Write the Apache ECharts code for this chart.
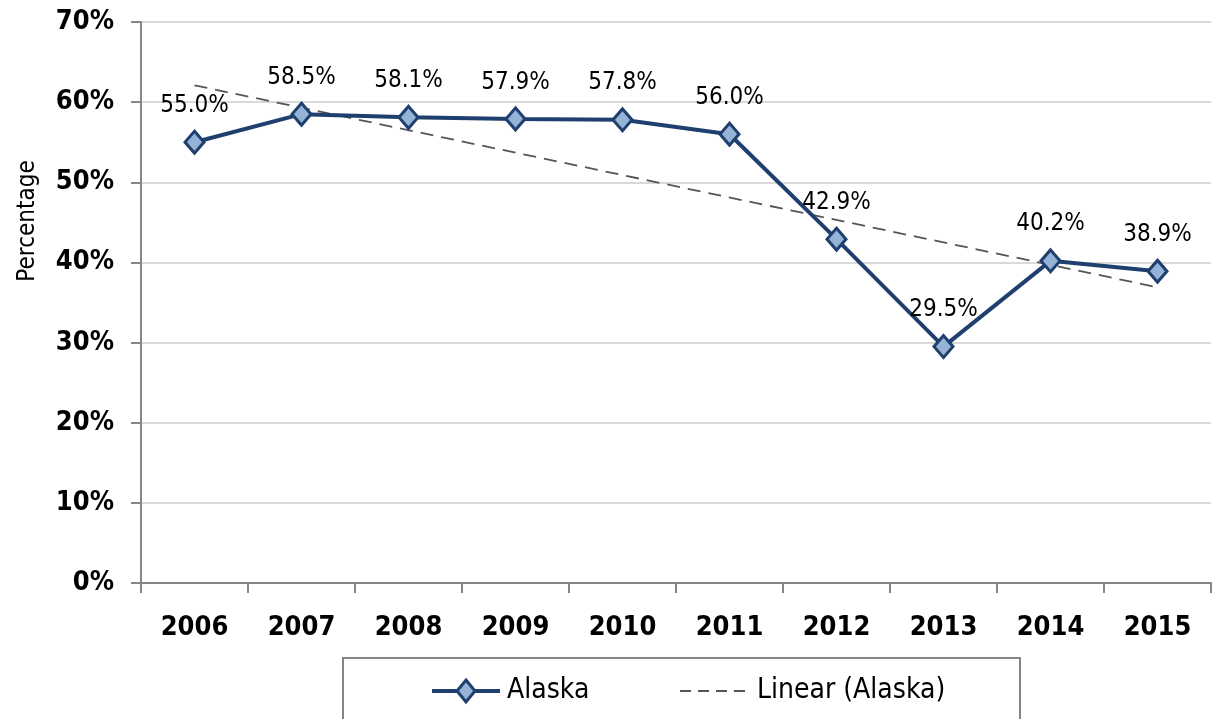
<!DOCTYPE html>
<html><head><meta charset="utf-8">
<script src="https://cdn.jsdelivr.net/npm/echarts@6/dist/echarts.min.js"></script>
<style>html,body{margin:0;padding:0;background:#fff}#c{width:1212px;height:719px}</style>
</head><body><div id="c"></div>
<script>
const years = ['2006','2007','2008','2009','2010','2011','2012','2013','2014','2015'];
const alaska = [55.0, 58.5, 58.1, 57.9, 57.8, 56.0, 42.9, 29.5, 40.2, 38.9];
// Linear trend endpoints (2006 and 2015)
const trendEnds = [62.1, 36.9];
const yTicks = [0, 10, 20, 30, 40, 50, 60, 70];
const seriesNames = ['Alaska', 'Linear (Alaska)'];
const yTitle = 'Percentage';

const trend = years.map((y, i) => i === 0 ? trendEnds[0] : (i === years.length - 1 ? trendEnds[1] : null));
const FONT = '"Liberation Sans Narrow", "Arial Narrow", "DejaVu Sans Condensed", sans-serif';
const NAVY = '#1f3f6e', FILLC = '#95b3d7', TRENDC = '#555555';

const chart = echarts.init(document.getElementById('c'));
chart.setOption({
  animation: false,
  textStyle: { fontFamily: FONT },
  grid: { left: 141, right: 1, top: 22, bottom: 136, containLabel: false },
  xAxis: {
    type: 'category', data: years, boundaryGap: true,
    axisLine: { lineStyle: { color: '#868686', width: 2 } },
    axisTick: { show: true, length: 10, lineStyle: { color: '#868686', width: 2 } },
    axisLabel: { color: '#000', fontSize: 27, fontWeight: 'bold', fontFamily: FONT, margin: 31 }
  },
  yAxis: {
    type: 'value', min: yTicks[0], max: yTicks[yTicks.length - 1], interval: 10,
    axisLine: { show: true, lineStyle: { color: '#868686', width: 2 } },
    axisTick: { show: true, length: 10, lineStyle: { color: '#868686', width: 2 } },
    splitLine: { lineStyle: { color: '#d9d9d9', width: 2 } },
    axisLabel: { color: '#000', fontSize: 27, fontWeight: 'bold', fontFamily: FONT, margin: 27, formatter: '{value}%' }
  },
  graphic: [
    { type: 'text', x: 28, y: 221, rotation: Math.PI / 2, silent: true,
      style: { text: yTitle, fill: '#000', fontSize: 24, fontFamily: FONT, align: 'center', verticalAlign: 'middle' } },
    { type: 'rect', shape: { x: 343, y: 658, width: 677, height: 80 },
      style: { fill: 'none', stroke: '#868686', lineWidth: 2 }, silent: true, z: -1 },
    { type: 'line', shape: { x1: 432, y1: 691, x2: 500, y2: 691 },
      style: { stroke: NAVY, lineWidth: 4 }, silent: true },
    { type: 'polygon', shape: { points: [[466, 680], [475, 691], [466, 702], [457, 691]] },
      style: { fill: FILLC, stroke: NAVY, lineWidth: 3 }, silent: true },
    { type: 'text', x: 507, y: 691, silent: true,
      style: { text: seriesNames[0], fill: '#000', fontSize: 28, fontFamily: FONT, verticalAlign: 'middle' } },
    { type: 'line', shape: { x1: 680, y1: 691, x2: 752, y2: 691 },
      style: { stroke: TRENDC, lineWidth: 1.8, lineDash: [11, 7] }, silent: true },
    { type: 'text', x: 757, y: 691, silent: true,
      style: { text: seriesNames[1], fill: '#000', fontSize: 28, fontFamily: FONT, verticalAlign: 'middle' } }
  ],
  series: [
    {
      name: seriesNames[1], type: 'line', data: trend, connectNulls: true,
      symbol: 'none', z: 1,
      lineStyle: { color: TRENDC, width: 1.8, type: [13, 8] },
      itemStyle: { color: TRENDC }
    },
    {
      name: seriesNames[0], type: 'line', data: alaska, z: 3,
      symbol: 'diamond', symbolSize: [19, 22],
      lineStyle: { color: NAVY, width: 4 },
      itemStyle: { color: FILLC, borderColor: NAVY, borderWidth: 3 },
      label: {
        show: true, position: 'top', distance: 12, color: '#000', fontSize: 24, fontFamily: FONT,
        formatter: p => p.value.toFixed(1) + '%'
      }
    }
  ]
});
</script></body></html>
